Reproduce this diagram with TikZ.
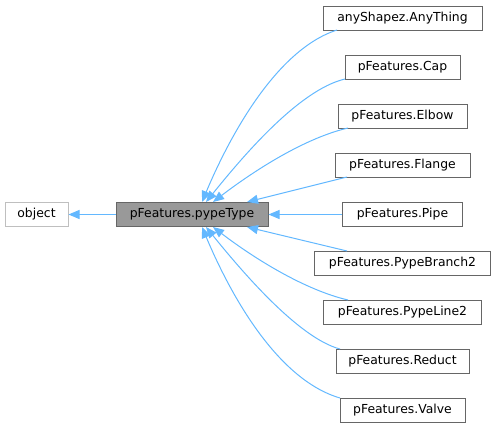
\documentclass[tikz,border=0pt]{standalone}
\usepackage{fontspec}
\setmainfont{DejaVu Sans}
\usetikzlibrary{arrows.meta}
\definecolor{edgeblue}{HTML}{63B8FF}
\definecolor{boxgray}{HTML}{666666}
\definecolor{objgray}{HTML}{BFBFBF}
\definecolor{fillgray}{HTML}{999999}
\tikzset{
  cls/.style={draw=boxgray, line width=1pt, fill=white, inner sep=0pt, minimum height=24pt, font=\fontsize{12.4}{15}\selectfont, text=black, anchor=center},
  ext/.style={cls, draw=objgray},
  cur/.style={cls, fill=fillgray},
  inh/.style={draw=edgeblue, line width=1pt, -{Triangle[length=11pt,width=9pt]}},
}
\begin{document}
\begin{tikzpicture}[x=1pt,y=-1pt]
\useasboundingbox (0,0) rectangle (496,431);
\node[ext, minimum width=63pt] (obj) at (36.5,214.5) {object};
\node[cur, minimum width=152pt] (pt) at (192,214.5) {pFeatures.pypeType};
\node[cls, minimum width=159pt] (any) at (402.5,18) {anyShapez.AnyThing};
\node[cls, minimum width=115pt] (cap) at (402.5,67) {pFeatures.Cap};
\node[cls, minimum width=129pt] (elb) at (402.5,116) {pFeatures.Elbow};
\node[cls, minimum width=135pt] (fla) at (402.5,165) {pFeatures.Flange};
\node[cls, minimum width=120pt] (pip) at (402.5,214.5) {pFeatures.Pipe};
\node[cls, minimum width=176pt] (pb) at (402.5,263) {pFeatures.PypeBranch2};
\node[cls, minimum width=158pt] (pl) at (402.5,312) {pFeatures.PypeLine2};
\node[cls, minimum width=133pt] (red) at (402.5,361) {pFeatures.Reduct};
\node[cls, minimum width=125pt] (val) at (402.5,410) {pFeatures.Valve};

\coordinate (anyS) at (337,30);
\coordinate (capS) at (345,79);
\coordinate (elbS) at (348,128);
\coordinate (flaS) at (347,177);
\coordinate (pbS) at (347,251);
\coordinate (plS) at (348,300);
\coordinate (redS) at (340,349);
\coordinate (valS) at (340,398);

\draw[inh] (pt.west) -- (obj.east);
\draw[inh] (anyS) .. controls (275,50) and (228,140) .. (202,202);
\draw[inh] (capS) .. controls (298,90) and (240,160) .. (206,202);
\draw[inh] (elbS) .. controls (305,138) and (255,170) .. (213,202);
\draw[inh] (flaS) -- (247,202);
\draw[inh] (pip.west) -- (pt.east);
\draw[inh] (pbS) -- (247,227);
\draw[inh] (plS) .. controls (305,290) and (255,259) .. (213,227);
\draw[inh] (redS) .. controls (298,338) and (240,269) .. (206,227);
\draw[inh] (valS) .. controls (275,379) and (228,289) .. (202,227);
\end{tikzpicture}
\end{document}
